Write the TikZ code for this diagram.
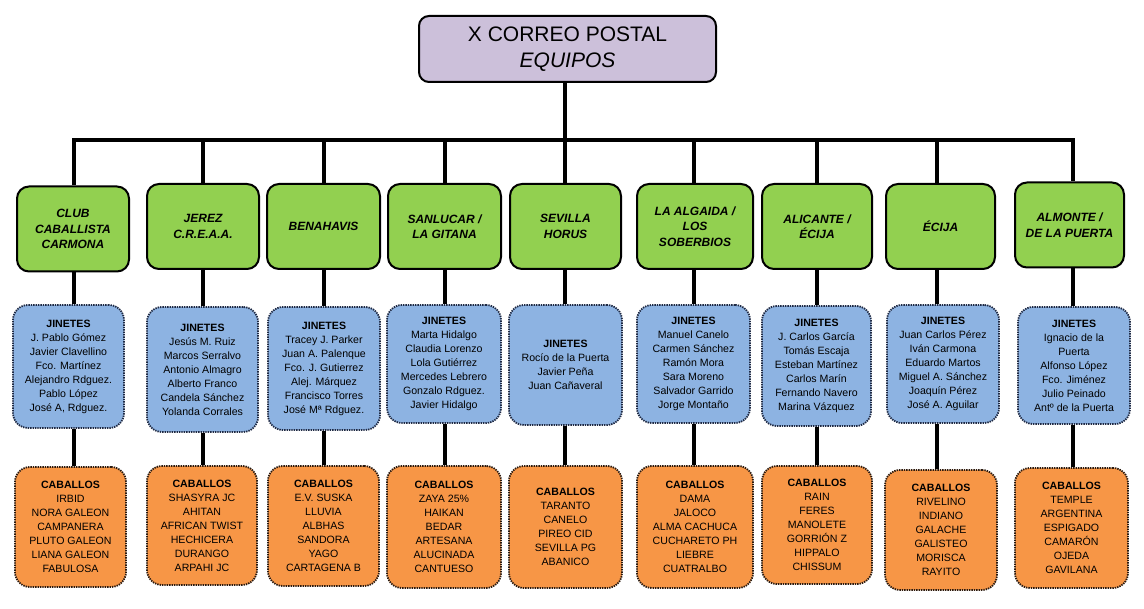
\documentclass[tikz,border=0pt]{standalone}
\usepackage{fontspec}
\setmainfont{Liberation Sans}
\definecolor{teamgreen}{HTML}{92D050}
\definecolor{jinblue}{HTML}{8DB3E2}
\definecolor{caborange}{HTML}{F79646}
\definecolor{toppurple}{HTML}{CCC0DA}
\definecolor{dotnavy}{HTML}{1F2A44}
\definecolor{dotbrown}{HTML}{2A1A10}
\newcommand\teamfnt{\fontsize{12}{15.5}\selectfont\bfseries\itshape}
\newcommand\listfnt{\fontsize{10.6}{14}\selectfont}
\begin{document}
\begin{tikzpicture}[x=1pt,y=-1pt,
  topbox/.style={draw=black, line width=2pt, fill=toppurple, rounded corners=10pt,
    minimum width=297pt, minimum height=66pt, inner sep=0pt, align=center,
    font=\fontsize{21}{26}\selectfont},
  teambox/.style={draw=black, line width=2pt, fill=teamgreen, rounded corners=12pt,
    minimum height=85pt, inner sep=0pt, align=center, font=\teamfnt},
  jinbox/.style={draw=dotnavy, line width=1.8pt, dash pattern=on 1.4pt off 1pt,
    fill=jinblue, rounded corners=15pt, inner sep=0pt, align=center, font=\listfnt},
  cabbox/.style={draw=dotbrown, line width=1.8pt, dash pattern=on 1.4pt off 1pt,
    fill=caborange, rounded corners=15pt, inner sep=0pt, align=center, font=\listfnt},
  conn/.style={draw=black, line width=4pt}
]
\useasboundingbox (0,0) rectangle (1144,609);
\fill[white] (0,0) rectangle (1144,609);

% top
\node[topbox] (top) at (567.5,49) {X CORREO POSTAL\\\textit{EQUIPOS}};

% team boxes
\node[teambox, minimum width=112pt] (g1) at (73,229) {CLUB\\CABALLISTA\\CARMONA};
\node[teambox, minimum width=112pt] (g2) at (203,226.5) {JEREZ\\C.R.E.A.A.};
\node[teambox, minimum width=113pt] (g3) at (323.5,226.5) {BENAHAVIS};
\node[teambox, minimum width=113pt] (g4) at (444.5,226.5) {SANLUCAR /\\LA GITANA};
\node[teambox, minimum width=111pt] (g5) at (565.5,226.5) {SEVILLA\\HORUS};
\node[teambox, minimum width=116pt] (g6) at (695,226.5) {LA ALGAIDA /\\LOS\\SOBERBIOS};
\node[teambox, minimum width=110pt] (g7) at (817,226.5) {ALICANTE /\\ÉCIJA};
\node[teambox, minimum width=109pt] (g8) at (940.5,226.5) {ÉCIJA};
\node[teambox, minimum width=109pt] (g9) at (1069.5,225) {ALMONTE /\\DE LA PUERTA};

% jinetes boxes
\node[jinbox, minimum width=111pt, minimum height=123pt] (j1) at (68.5,366.5)
  {\textbf{JINETES}\\J. Pablo Gómez\\Javier Clavellino\\Fco. Martínez\\Alejandro Rdguez.\\Pablo López\\José A, Rdguez.};
\node[jinbox, minimum width=111pt, minimum height=125pt] (j2) at (202.5,369.5)
  {\textbf{JINETES}\\Jesús M. Ruiz\\Marcos Serralvo\\Antonio Almagro\\Alberto Franco\\Candela Sánchez\\Yolanda Corrales};
\node[jinbox, minimum width=112pt, minimum height=123pt] (j3) at (324,368.5)
  {\textbf{JINETES}\\Tracey J. Parker\\Juan A. Palenque\\Fco. J. Gutierrez\\Alej. Márquez\\Francisco Torres\\José Mª Rdguez.};
\node[jinbox, minimum width=114pt, minimum height=118pt] (j4) at (444,364)
  {\textbf{JINETES}\\Marta Hidalgo\\Claudia Lorenzo\\Lola Gutiérrez\\Mercedes Lebrero\\Gonzalo Rdguez.\\Javier Hidalgo};
\node[jinbox, minimum width=113pt, minimum height=120pt] (j5) at (565.5,365)
  {\textbf{JINETES}\\Rocío de la Puerta\\Javier Peña\\Juan Cañaveral};
\node[jinbox, minimum width=113pt, minimum height=118pt] (j6) at (693.5,364)
  {\textbf{JINETES}\\Manuel Canelo\\Carmen Sánchez\\Ramón Mora\\Sara Moreno\\Salvador Garrido\\Jorge Montaño};
\node[jinbox, minimum width=109pt, minimum height=120pt] (j7) at (816.5,366)
  {\textbf{JINETES}\\J. Carlos García\\Tomás Escaja\\Esteban Martínez\\Carlos Marín\\Fernando Navero\\Marina Vázquez};
\node[jinbox, minimum width=112pt, minimum height=118pt] (j8) at (943,364)
  {\textbf{JINETES}\\Juan Carlos Pérez\\Iván Carmona\\Eduardo Martos\\Miguel A. Sánchez\\Joaquín Pérez\\José A. Aguilar};
\node[jinbox, minimum width=112pt, minimum height=117pt] (j9) at (1074,365.5)
  {\textbf{JINETES}\\Ignacio de la\\Puerta\\Alfonso López\\Fco. Jiménez\\Julio Peinado\\Antº de la Puerta};

% caballos boxes
\node[cabbox, minimum width=111pt, minimum height=120pt] (c1) at (70.5,527)
  {\textbf{CABALLOS}\\IRBID\\NORA GALEON\\CAMPANERA\\PLUTO GALEON\\LIANA GALEON\\FABULOSA};
\node[cabbox, minimum width=110pt, minimum height=119pt] (c2) at (202,525.5)
  {\textbf{CABALLOS}\\SHASYRA JC\\AHITAN\\AFRICAN TWIST\\HECHICERA\\DURANGO\\ARPAHI JC};
\node[cabbox, minimum width=111pt, minimum height=120pt] (c3) at (323.5,526)
  {\textbf{CABALLOS}\\E.V. SUSKA\\LLUVIA\\ALBHAS\\SANDORA\\YAGO\\CARTAGENA B};
\node[cabbox, minimum width=114pt, minimum height=122pt] (c4) at (444,527)
  {\textbf{CABALLOS}\\ZAYA 25\%\\HAIKAN\\BEDAR\\ARTESANA\\ALUCINADA\\CANTUESO};
\node[cabbox, minimum width=113pt, minimum height=122pt] (c5) at (565.5,527)
  {\textbf{CABALLOS}\\TARANTO\\CANELO\\PIREO CID\\SEVILLA PG\\ABANICO};
\node[cabbox, minimum width=116pt, minimum height=122pt] (c6) at (695,527)
  {\textbf{CABALLOS}\\DAMA\\JALOCO\\ALMA CACHUCA\\CUCHARETO PH\\LIEBRE\\CUATRALBO};
\node[cabbox, minimum width=110pt, minimum height=118pt] (c7) at (817,525)
  {\textbf{CABALLOS}\\RAIN\\FERES\\MANOLETE\\GORRIÓN Z\\HIPPALO\\CHISSUM};
\node[cabbox, minimum width=112pt, minimum height=120pt] (c8) at (941,530)
  {\textbf{CABALLOS}\\RIVELINO\\INDIANO\\GALACHE\\GALISTEO\\MORISCA\\RAYITO};
\node[cabbox, minimum width=113pt, minimum height=120pt] (c9) at (1071.5,528)
  {\textbf{CABALLOS}\\TEMPLE\\ARGENTINA\\ESPIGADO\\CAMARÓN\\OJEDA\\GAVILANA};

% bus coordinates
\coordinate (bt) at (565,140);
\coordinate (b1) at (74,140);
\coordinate (b2) at (203,140);
\coordinate (b3) at (324,140);
\coordinate (b4) at (445,140);
\coordinate (b5) at (565,140);
\coordinate (b6) at (694,140);
\coordinate (b7) at (817,140);
\coordinate (b8) at (937,140);
\coordinate (b9) at (1073,140);

% connectors
\draw[conn] (top.south -| bt) -- (bt);
\draw[conn] (g1.north -| b1) -- (b1) -- (b9) -- (g9.north -| b9);
\foreach \i in {2,...,8}{
  \draw[conn] (b\i) -- (g\i.north -| b\i);
}
\foreach \i in {1,...,9}{
  \draw[conn] (g\i.south -| b\i) -- (j\i.north -| b\i);
  \draw[conn] (j\i.south -| b\i) -- (c\i.north -| b\i);
}
\end{tikzpicture}
\end{document}
